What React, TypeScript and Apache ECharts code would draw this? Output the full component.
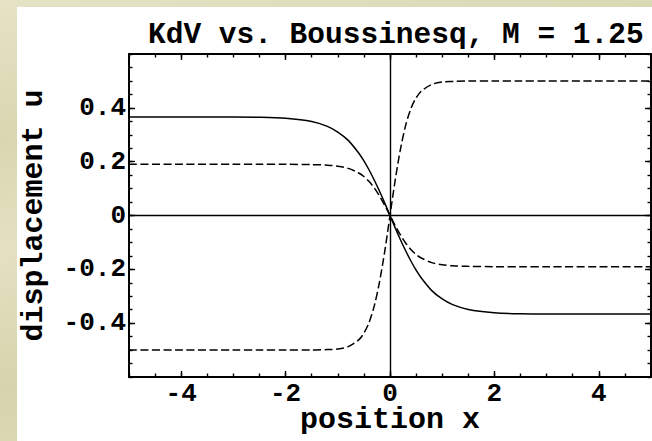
import React, { useEffect, useRef } from "react";
import * as echarts from "echarts";

// ---- data ----
const positions = [-5, -4, -3, -2.5, -2, -1.5, -1.2, -1, -0.8, -0.6, -0.5, -0.4, -0.3, -0.2, -0.1, 0,
  0.1, 0.2, 0.3, 0.4, 0.5, 0.6, 0.8, 1, 1.2, 1.5, 2, 2.5, 3, 4, 5];
// KdV solution (solid)
const kdvU = [0.366, 0.366, 0.366, 0.365, 0.361, 0.349, 0.331, 0.31, 0.279, 0.232, 0.203, 0.169, 0.131, 0.09, 0.046, 0,
  -0.046, -0.09, -0.131, -0.169, -0.203, -0.232, -0.279, -0.31, -0.331, -0.349, -0.361, -0.365, -0.366, -0.366, -0.366];
// Boussinesq solution, large branch (dashed)
const boussLarge = [-0.5, -0.5, -0.5, -0.5, -0.5, -0.5, -0.498, -0.496, -0.487, -0.462, -0.437, -0.397, -0.335, -0.246, -0.132, 0,
  0.132, 0.246, 0.335, 0.397, 0.437, 0.462, 0.487, 0.496, 0.498, 0.5, 0.5, 0.5, 0.5, 0.5, 0.5];
// Boussinesq solution, small branch (dashed)
const boussSmall = [0.19, 0.19, 0.19, 0.19, 0.19, 0.189, 0.187, 0.183, 0.175, 0.158, 0.145, 0.126, 0.102, 0.072, 0.0375, 0,
  -0.0375, -0.072, -0.102, -0.126, -0.145, -0.158, -0.175, -0.183, -0.187, -0.189, -0.19, -0.19, -0.19, -0.19, -0.19];

const xMajorTicks = [-4, -2, 0, 2, 4];
const yMajorTicks = [-0.4, -0.2, 0, 0.2, 0.4];

const titleText = "KdV vs. Boussinesq, M = 1.25";
const xName = "position x";
const yName = "displacement u";

const FONT = '"Liberation Mono", "Courier New", "DejaVu Sans Mono", monospace';

export default function App() {
  const ref = useRef<HTMLDivElement>(null);

  useEffect(() => {
    if (!ref.current) return;
    const chart = echarts.init(ref.current, null, { renderer: "svg" });
    const zip = (ys: number[]) => positions.map((x, i) => [x, ys[i]]);
    const tickStyle = { color: "#000", width: 1.4 };
    const labelStyle = { fontFamily: FONT, fontWeight: "bold" as const, fontSize: 26, lineHeight: 22, color: "#000" };
    const frameLine = { show: true, onZero: false, lineStyle: { color: "#000", width: 2 } };

    const xMajor = (position: string, labels: boolean) => ({
      type: "value", min: -5, max: 5, position,
      axisLine: frameLine, splitLine: { show: false },
      axisTick: { show: true, inside: true, length: 6, customValues: xMajorTicks, lineStyle: tickStyle },
      axisLabel: labels ? { ...labelStyle, margin: 6, customValues: xMajorTicks } : { show: false },
      ...(labels ? { name: xName, nameLocation: "middle", nameGap: 30, nameMoveOverlap: false,
        nameTextStyle: { fontFamily: FONT, fontWeight: "bold", fontSize: 30, lineHeight: 26, color: "#000" } } : {}),
    });
    const xMinor = (position: string) => ({
      type: "value", min: -5, max: 5, interval: 0.5, position,
      axisLine: { show: false, onZero: false }, splitLine: { show: false },
      axisTick: { show: true, inside: true, length: 3.5, lineStyle: tickStyle },
      axisLabel: { show: false },
    });
    const yMajor = (position: string, labels: boolean) => ({
      type: "value", min: -0.6, max: 0.6, position,
      axisLine: frameLine, splitLine: { show: false },
      axisTick: { show: true, inside: true, length: 6, customValues: yMajorTicks, lineStyle: tickStyle },
      axisLabel: labels ? { ...labelStyle, margin: 3, customValues: yMajorTicks } : { show: false },
      ...(labels ? { name: yName, nameLocation: "middle", nameGap: 80, nameRotate: 90,
        nameTextStyle: { fontFamily: FONT, fontWeight: "bold", fontSize: 30, color: "#000" } } : {}),
    });
    const yMinor = (position: string) => ({
      type: "value", min: -0.6, max: 0.6, interval: 0.05, position,
      axisLine: { show: false, onZero: false }, splitLine: { show: false },
      axisTick: { show: true, inside: true, length: 3.5, lineStyle: tickStyle },
      axisLabel: { show: false },
    });

    chart.setOption({
      animation: false,
      backgroundColor: "transparent",
      title: {
        text: titleText, left: 143, top: 15,
        textStyle: { fontFamily: FONT, fontWeight: "bold", fontSize: 29.5, color: "#000" },
      },
      grid: { left: 129, top: 54, right: 1, bottom: 64, outerBoundsMode: "none", containLabel: false },
      xAxis: [xMajor("bottom", true), xMinor("bottom"), xMajor("top", false), xMinor("top")],
      yAxis: [yMajor("left", true), yMinor("left"), yMajor("right", false), yMinor("right")],
      series: [
        {
          name: "KdV", type: "line", xAxisIndex: 0, yAxisIndex: 0, data: zip(kdvU), showSymbol: false, smooth: 0.3,
          lineStyle: { color: "#000", width: 1.5, type: "solid" },
          markLine: {
            silent: true, symbol: ["none", "none"], label: { show: false },
            lineStyle: { color: "#000", width: 1.4, type: "solid" },
            data: [{ xAxis: 0 }, { yAxis: 0 }],
          },
        },
        {
          name: "Boussinesq (large)", type: "line", xAxisIndex: 0, yAxisIndex: 0, data: zip(boussLarge), showSymbol: false, smooth: 0.3,
          lineStyle: { color: "#000", width: 1.5, type: [8, 3.5] },
        },
        {
          name: "Boussinesq (small)", type: "line", xAxisIndex: 0, yAxisIndex: 0, data: zip(boussSmall), showSymbol: false, smooth: 0.3,
          lineStyle: { color: "#000", width: 1.5, type: [8, 3.5] },
        },
      ],
    });
    return () => chart.dispose();
  }, []);

  return (
    <div style={{
      position: "fixed", left: 0, top: 0, width: 652, height: 441, overflow: "hidden",
      background: "linear-gradient(170deg, #e6e3c6 0%, #d9d6b1 25%, #e4e1c2 45%, #d6d3ad 70%, #e2dfbf 100%)",
    }}>
      <div style={{ position: "absolute", left: 17, top: 7, right: 0, bottom: 0, background: "#fff" }} />
      <div ref={ref} style={{ position: "absolute", left: 0, top: 0, width: 652, height: 441 }} />
    </div>
  );
}
